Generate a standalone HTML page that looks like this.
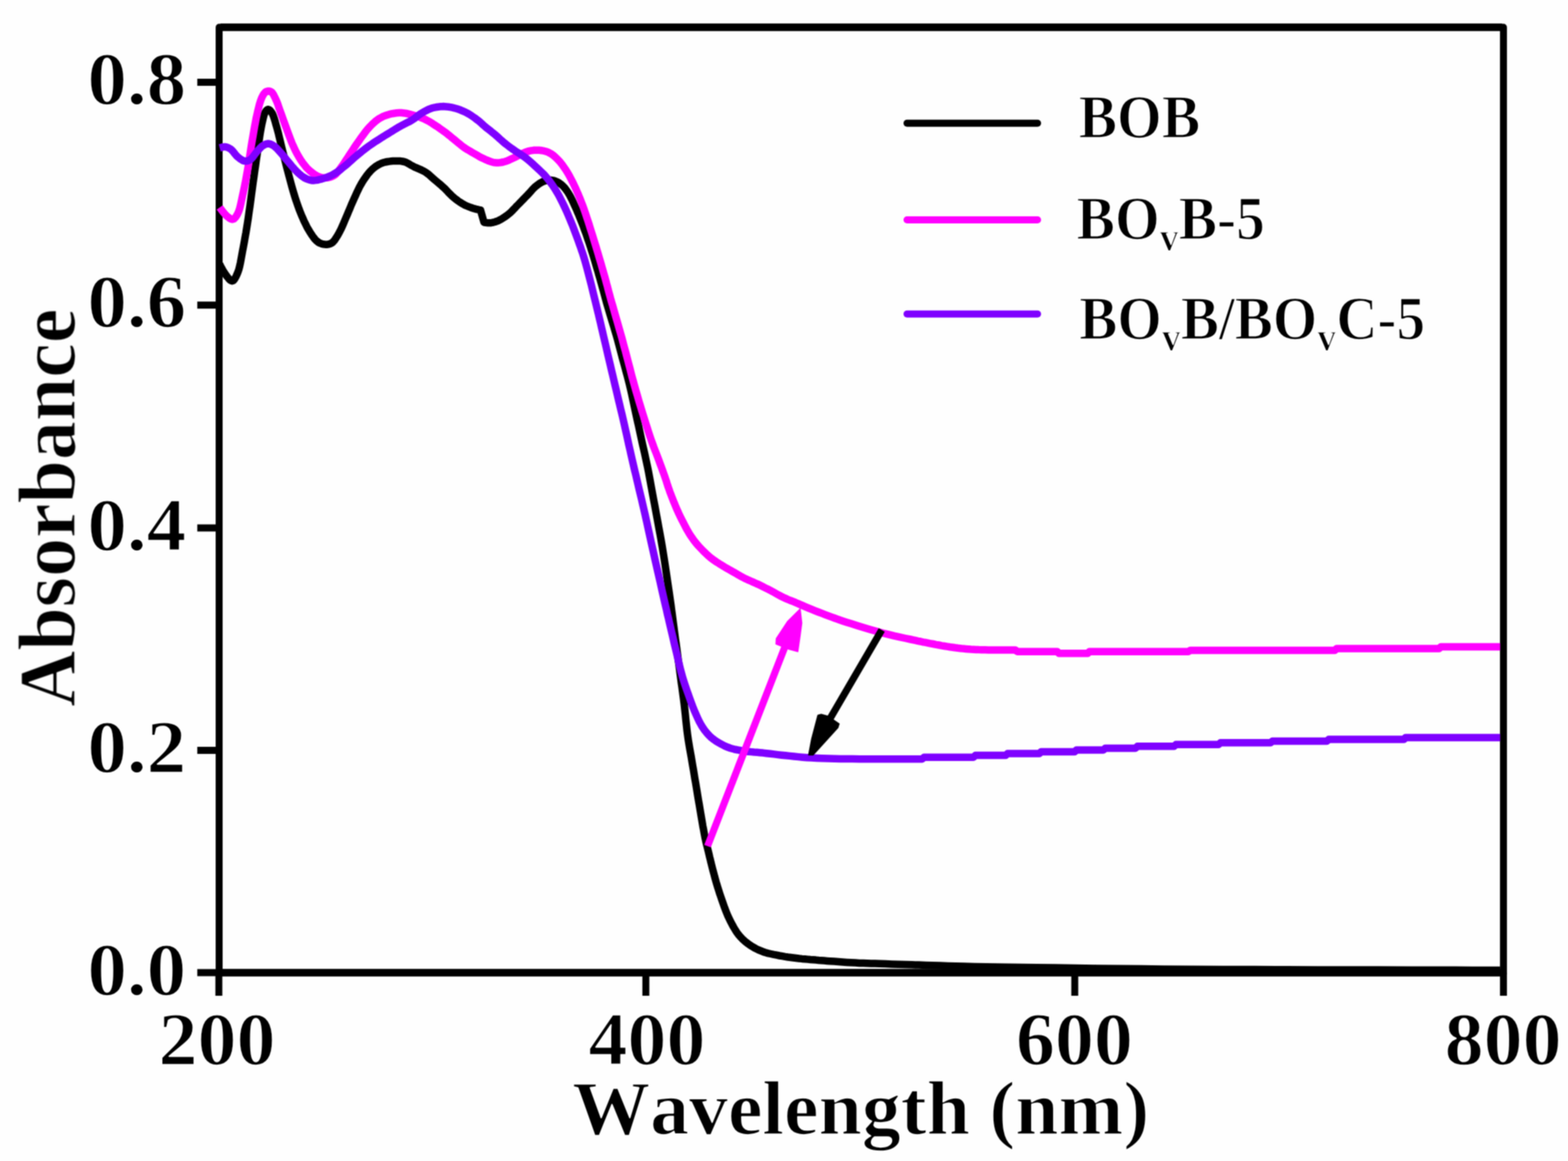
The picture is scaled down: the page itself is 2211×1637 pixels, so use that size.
<!DOCTYPE html>
<html lang="en">
<head>
<meta charset="utf-8">
<title>UV-vis absorbance spectra</title>
<style>
html,body{margin:0;padding:0;background:#fefefe;}
body{width:2211px;height:1637px;overflow:hidden;}
svg{display:block;}
</style>
</head>
<body>
<svg width="2211" height="1637" viewBox="0 0 2211 1637" role="img" aria-label="UV-vis absorbance spectra of BOB, BOvB-5 and BOvB/BOvC-5">
<defs><filter id="soft" x="0" y="0" width="2211" height="1637" filterUnits="userSpaceOnUse" color-interpolation-filters="sRGB"><feConvolveMatrix order="3" kernelMatrix="1 2 1 2 4 2 1 2 1" divisor="16" edgeMode="duplicate" preserveAlpha="false"/></filter></defs>
<rect width="2211" height="1637" fill="#fefefe"/>
<g filter="url(#soft)">
<g stroke="#000" fill="none" stroke-linecap="butt">
<rect x="309.0" y="38.4" width="1811.0" height="1333.0" stroke-width="9.8" stroke-linejoin="round"/>
<line x1="311.0" y1="38.4" x2="2118.0" y2="38.4" stroke-width="10.5"/>
<line x1="311.0" y1="1371.4" x2="2118.0" y2="1371.4" stroke-width="10.5"/>
<line x1="308.6" y1="1371.4" x2="308.6" y2="1404" stroke-width="9.8"/>
<line x1="910.7" y1="1371.4" x2="910.7" y2="1404" stroke-width="9.8"/>
<line x1="1515.5" y1="1371.4" x2="1515.5" y2="1404" stroke-width="9.8"/>
<line x1="2120.0" y1="1371.4" x2="2120.0" y2="1404" stroke-width="9.8"/>
<line x1="278.2" y1="1371.4" x2="309.0" y2="1371.4" stroke-width="10.0"/>
<line x1="278.2" y1="1058.0" x2="309.0" y2="1058.0" stroke-width="10.0"/>
<line x1="278.2" y1="744.4" x2="309.0" y2="744.4" stroke-width="10.0"/>
<line x1="278.2" y1="430.2" x2="309.0" y2="430.2" stroke-width="10.0"/>
<line x1="278.2" y1="116.0" x2="309.0" y2="116.0" stroke-width="10.0"/>
</g>
<g fill="none" stroke-width="10.5" stroke-linejoin="round" stroke-linecap="butt">
<path stroke="#000" d="M309.8,372.7 L310.2,373.4 L311.1,375.4 L312.6,378.0 L314.2,381.1 L316.0,384.0 L317.6,386.4 L319.1,388.5 L320.8,390.7 L322.5,392.8 L324.2,394.6 L325.9,395.8 L327.4,396.2 L328.9,395.6 L330.3,394.1 L331.6,392.1 L332.9,389.7 L334.1,387.0 L335.2,384.4 L336.7,380.3 L337.9,375.6 L339.0,370.5 L340.0,365.1 L341.0,359.6 L342.0,354.1 L343.2,347.9 L344.4,341.6 L345.5,335.1 L346.7,328.6 L347.8,321.8 L348.9,315.0 L350.1,307.2 L351.2,299.1 L352.4,290.9 L353.5,282.7 L354.6,274.4 L355.7,266.2 L356.8,258.0 L358.0,249.8 L359.1,241.6 L360.3,233.4 L361.4,225.3 L362.6,217.3 L363.7,209.7 L364.8,202.0 L365.9,194.3 L367.0,187.0 L368.2,180.3 L369.4,174.3 L370.2,170.9 L370.9,167.7 L371.6,164.7 L372.4,161.9 L373.3,159.6 L374.3,157.7 L374.9,156.8 L375.5,156.0 L376.2,155.3 L376.8,154.8 L377.5,154.4 L378.2,154.3 L379.0,154.5 L379.8,154.9 L380.7,155.6 L381.5,156.5 L382.3,157.5 L383.1,158.6 L384.4,160.9 L385.6,163.8 L386.7,167.1 L387.8,170.7 L388.8,174.5 L389.9,178.2 L391.2,183.0 L392.6,188.1 L393.8,193.4 L395.1,198.8 L396.4,204.2 L397.7,209.5 L399.0,214.7 L400.3,219.8 L401.6,225.0 L402.9,230.2 L404.2,235.4 L405.6,240.7 L407.1,246.5 L408.7,252.5 L410.3,258.5 L411.9,264.4 L413.6,270.3 L415.3,275.9 L416.8,280.7 L418.4,285.4 L420.0,290.0 L421.6,294.5 L423.3,298.9 L425.1,303.3 L426.9,307.4 L428.7,311.6 L430.7,315.6 L432.6,319.6 L434.7,323.3 L436.8,326.8 L438.6,329.6 L440.5,332.5 L442.4,335.1 L444.4,337.6 L446.5,339.7 L448.6,341.4 L450.3,342.4 L452.1,343.2 L453.9,343.9 L455.8,344.3 L457.6,344.6 L459.3,344.7 L460.8,344.7 L462.3,344.5 L463.8,344.3 L465.3,343.8 L466.7,343.2 L468.1,342.4 L469.9,340.9 L471.6,338.9 L473.2,336.6 L474.8,334.0 L476.4,331.4 L477.9,328.7 L479.6,325.5 L481.3,322.1 L482.9,318.5 L484.5,314.8 L486.1,311.0 L487.7,307.2 L489.6,302.8 L491.5,298.2 L493.5,293.6 L495.4,288.9 L497.4,284.3 L499.4,279.8 L501.3,275.7 L503.1,271.7 L505.0,267.7 L506.9,263.8 L509.0,260.0 L511.1,256.4 L513.2,253.2 L515.4,250.0 L517.6,246.9 L519.9,243.9 L522.3,241.2 L524.8,238.8 L527.0,236.9 L529.2,235.2 L531.4,233.7 L533.7,232.3 L536.1,231.1 L538.5,230.0 L541.0,229.1 L543.5,228.5 L546.2,228.0 L548.8,227.6 L551.5,227.3 L554.1,227.1 L556.7,227.0 L559.4,226.9 L562.1,226.9 L564.7,227.1 L567.3,227.5 L569.8,228.0 L572.2,228.8 L574.4,229.9 L576.6,231.1 L578.8,232.4 L581.1,233.7 L583.4,234.9 L586.1,236.2 L588.9,237.4 L591.8,238.6 L594.7,239.9 L597.4,241.2 L600.0,242.7 L602.1,244.2 L604.1,245.7 L606.0,247.4 L607.9,249.1 L609.7,250.8 L611.7,252.5 L613.9,254.4 L616.2,256.3 L618.5,258.2 L620.8,260.1 L623.1,262.2 L625.4,264.2 L627.7,266.4 L630.0,268.8 L632.2,271.2 L634.5,273.5 L636.8,275.8 L639.1,277.9 L641.3,279.7 L643.6,281.5 L645.8,283.2 L648.1,284.8 L650.5,286.3 L652.8,287.7 L655.0,288.9 L657.3,290.0 L659.7,291.0 L662.0,291.9 L664.3,292.7 L666.5,293.5 L668.7,294.2 L671.1,294.8 L673.5,295.4 L675.6,295.9 L677.0,296.2 L677.6,296.3 L682.5,313.5 L683.0,313.6 L684.2,313.8 L686.0,314.0 L688.0,314.2 L690.1,314.3 L691.9,314.2 L693.8,313.9 L695.7,313.5 L697.7,313.0 L699.7,312.3 L701.6,311.6 L703.6,310.7 L705.9,309.5 L708.2,308.2 L710.5,306.7 L712.8,305.1 L715.1,303.5 L717.3,301.7 L719.7,299.7 L722.0,297.5 L724.2,295.2 L726.5,292.8 L728.7,290.4 L731.0,288.1 L733.3,285.8 L735.6,283.4 L737.9,281.0 L740.2,278.6 L742.5,276.3 L744.7,274.0 L746.7,271.9 L748.6,269.7 L750.5,267.6 L752.4,265.5 L754.4,263.6 L756.4,261.9 L758.3,260.5 L760.2,259.2 L762.1,257.9 L764.1,256.8 L766.1,255.9 L768.1,255.2 L770.0,254.7 L772.0,254.3 L773.9,254.1 L775.9,254.0 L777.9,254.1 L779.8,254.4 L781.8,254.9 L783.9,255.7 L785.9,256.6 L787.9,257.7 L789.8,259.0 L791.6,260.3 L793.4,261.9 L795.1,263.6 L796.7,265.5 L798.3,267.6 L799.8,269.7 L801.3,272.0 L803.1,274.9 L804.7,278.0 L806.4,281.3 L808.0,284.7 L809.5,288.1 L811.1,291.6 L812.8,295.3 L814.4,299.1 L816.1,303.0 L817.7,307.0 L819.3,311.0 L820.9,315.0 L822.6,319.4 L824.2,323.9 L825.9,328.4 L827.5,333.0 L829.1,337.7 L830.7,342.4 L832.4,347.5 L834.0,352.7 L835.7,358.0 L837.3,363.3 L838.9,368.6 L840.4,373.7 L841.8,378.4 L843.2,383.1 L844.5,387.8 L845.9,392.4 L847.1,396.8 L848.3,401.0 L849.2,404.3 L850.1,407.5 L850.9,410.5 L851.7,413.5 L852.5,416.5 L853.3,419.5 L854.1,422.3 L854.8,425.0 L855.6,427.7 L856.4,430.5 L857.3,433.5 L858.2,436.7 L859.8,442.0 L861.6,448.0 L863.5,454.3 L865.5,460.8 L867.4,467.2 L869.2,473.3 L870.7,478.7 L872.1,484.0 L873.5,489.2 L874.9,494.4 L876.3,499.7 L877.7,505.1 L879.3,511.0 L881.0,517.1 L882.6,523.2 L884.3,529.3 L885.9,535.5 L887.5,541.7 L889.0,548.1 L890.5,554.6 L891.9,561.2 L893.3,567.7 L894.7,574.3 L896.1,580.8 L897.5,587.3 L898.9,593.8 L900.4,600.3 L901.8,606.9 L903.2,613.4 L904.6,619.9 L906.0,626.4 L907.5,632.9 L909.0,639.4 L910.4,646.0 L911.8,652.5 L913.2,659.0 L914.5,665.5 L915.7,672.0 L916.9,678.5 L918.1,685.1 L919.3,691.6 L920.5,698.1 L921.7,704.6 L923.0,711.2 L924.2,717.8 L925.4,724.4 L926.6,730.8 L927.8,737.2 L928.8,742.9 L929.8,748.3 L930.8,753.6 L931.8,759.1 L932.8,765.0 L933.9,771.4 L935.7,782.5 L937.7,795.3 L939.7,808.8 L941.7,822.4 L943.6,835.3 L945.2,846.6 L946.2,853.5 L947.0,859.8 L947.8,865.8 L948.6,871.6 L949.3,877.3 L950.1,883.3 L950.9,889.4 L951.7,895.5 L952.5,901.6 L953.4,907.7 L954.2,913.8 L955.0,919.9 L955.8,926.0 L956.6,932.1 L957.5,938.2 L958.3,944.4 L959.1,950.5 L959.9,956.6 L960.7,962.7 L961.6,968.7 L962.4,974.7 L963.2,980.8 L964.0,986.9 L964.8,993.2 L965.6,1000.3 L966.4,1007.6 L967.1,1015.0 L967.9,1022.3 L968.7,1029.6 L969.6,1036.7 L970.5,1043.0 L971.5,1049.1 L972.5,1055.2 L973.6,1061.2 L974.7,1067.2 L975.7,1073.3 L976.7,1079.4 L977.8,1085.5 L978.8,1091.6 L979.8,1097.8 L980.9,1103.9 L981.9,1110.0 L982.9,1116.1 L983.9,1122.3 L984.9,1128.4 L986.0,1134.5 L987.0,1140.6 L988.0,1146.6 L989.0,1152.5 L990.0,1158.4 L991.0,1164.4 L992.1,1170.1 L993.1,1175.7 L994.1,1180.8 L994.9,1184.4 L995.6,1187.7 L996.4,1190.9 L997.2,1194.0 L998.0,1197.2 L998.8,1200.5 L999.7,1204.3 L1000.6,1208.2 L1001.6,1212.1 L1002.5,1216.1 L1003.5,1220.1 L1004.5,1224.0 L1005.5,1227.9 L1006.6,1231.9 L1007.6,1235.8 L1008.7,1239.7 L1009.8,1243.7 L1011.0,1247.6 L1012.2,1251.7 L1013.5,1255.7 L1014.8,1259.8 L1016.2,1263.9 L1017.6,1268.0 L1019.0,1272.0 L1020.4,1275.9 L1021.8,1279.9 L1023.3,1283.8 L1024.8,1287.6 L1026.4,1291.5 L1028.2,1295.3 L1030.2,1299.3 L1032.3,1303.4 L1034.5,1307.4 L1036.9,1311.4 L1039.3,1315.1 L1041.9,1318.5 L1044.3,1321.2 L1046.7,1323.8 L1049.3,1326.2 L1051.9,1328.4 L1054.6,1330.5 L1057.4,1332.5 L1060.2,1334.3 L1063.0,1336.0 L1066.0,1337.6 L1069.0,1339.1 L1072.1,1340.4 L1075.3,1341.7 L1079.0,1343.0 L1082.9,1344.1 L1086.9,1345.0 L1091.0,1345.9 L1095.1,1346.7 L1099.1,1347.5 L1103.1,1348.2 L1107.0,1348.9 L1111.0,1349.5 L1115.0,1350.0 L1118.9,1350.5 L1122.9,1351.0 L1126.9,1351.5 L1130.8,1351.9 L1134.8,1352.2 L1138.8,1352.6 L1142.7,1353.0 L1146.7,1353.3 L1150.6,1353.6 L1154.5,1354.0 L1158.3,1354.3 L1162.3,1354.6 L1166.3,1354.9 L1170.6,1355.2 L1176.1,1355.6 L1182.0,1356.0 L1188.1,1356.5 L1194.2,1356.9 L1200.3,1357.3 L1206.3,1357.6 L1211.9,1357.9 L1217.3,1358.1 L1222.7,1358.3 L1228.2,1358.4 L1233.9,1358.6 L1240.0,1358.8 L1248.4,1359.1 L1257.3,1359.4 L1266.6,1359.7 L1276.1,1360.0 L1285.8,1360.3 L1295.4,1360.6 L1305.6,1360.9 L1315.7,1361.3 L1325.9,1361.6 L1336.4,1362.0 L1347.4,1362.3 L1358.9,1362.6 L1374.3,1362.9 L1390.2,1363.2 L1406.9,1363.5 L1424.3,1363.7 L1442.5,1363.9 L1461.5,1364.2 L1488.0,1364.6 L1516.1,1365.0 L1545.6,1365.4 L1576.2,1365.7 L1607.7,1366.1 L1640.0,1366.4 L1680.8,1366.7 L1724.0,1366.9 L1768.5,1367.1 L1813.4,1367.2 L1857.5,1367.4 L1900.0,1367.5 L1942.0,1367.6 L1989.1,1367.7 L2035.6,1367.8 L2075.9,1367.9 L2104.3,1368.0 L2115.0,1368.0"/>
<path stroke="#ff00ff" d="M309.8,292.5 L310.3,293.2 L311.6,294.9 L313.4,297.3 L315.5,300.0 L317.6,302.4 L319.5,304.3 L320.9,305.5 L322.4,306.7 L324.0,307.8 L325.5,308.6 L326.9,309.2 L328.3,309.2 L329.6,308.7 L330.8,307.8 L332.0,306.5 L333.1,304.9 L334.2,303.1 L335.2,301.3 L336.6,298.0 L337.9,294.2 L339.0,289.9 L340.0,285.3 L341.0,280.6 L342.0,275.9 L343.2,270.4 L344.4,264.7 L345.6,258.9 L346.7,252.9 L347.8,246.8 L348.9,240.7 L350.1,233.8 L351.2,226.6 L352.3,219.3 L353.4,212.0 L354.5,204.7 L355.7,197.7 L356.8,191.3 L357.9,184.8 L359.0,178.4 L360.2,172.2 L361.3,166.2 L362.6,160.6 L363.6,156.2 L364.7,151.8 L365.7,147.6 L366.9,143.7 L368.1,140.2 L369.4,137.1 L370.3,135.4 L371.2,133.8 L372.1,132.3 L373.1,131.1 L374.2,130.0 L375.3,129.3 L376.4,128.9 L377.5,128.6 L378.7,128.5 L379.9,128.6 L381.1,128.9 L382.1,129.3 L383.3,130.1 L384.3,131.3 L385.3,132.8 L386.2,134.5 L387.1,136.3 L388.0,138.1 L389.3,141.0 L390.7,144.2 L392.0,147.7 L393.2,151.4 L394.5,155.0 L395.8,158.6 L397.1,162.1 L398.4,165.7 L399.6,169.2 L400.9,172.8 L402.2,176.4 L403.6,180.1 L405.1,184.3 L406.7,188.6 L408.3,192.9 L409.9,197.2 L411.6,201.5 L413.4,205.6 L415.2,209.4 L417.0,213.2 L419.0,216.9 L421.0,220.5 L423.0,223.9 L425.1,227.1 L426.9,229.7 L428.8,232.1 L430.7,234.5 L432.6,236.7 L434.7,238.7 L436.8,240.7 L438.9,242.5 L441.2,244.2 L443.5,245.9 L445.8,247.3 L448.2,248.6 L450.5,249.5 L452.5,250.1 L454.4,250.5 L456.4,250.7 L458.4,250.8 L460.3,250.7 L462.2,250.5 L463.9,250.2 L465.6,249.7 L467.3,249.2 L468.9,248.5 L470.5,247.6 L472.0,246.6 L473.8,245.1 L475.4,243.4 L477.0,241.4 L478.6,239.3 L480.2,237.1 L481.8,234.9 L483.7,232.2 L485.6,229.4 L487.5,226.5 L489.5,223.5 L491.4,220.5 L493.4,217.5 L495.6,214.2 L497.8,210.8 L500.0,207.4 L502.3,204.0 L504.6,200.7 L506.9,197.4 L509.1,194.3 L511.3,191.3 L513.5,188.3 L515.7,185.3 L518.0,182.5 L520.3,179.9 L522.5,177.6 L524.7,175.4 L526.9,173.3 L529.1,171.3 L531.5,169.5 L533.8,167.8 L535.9,166.5 L538.1,165.3 L540.2,164.2 L542.5,163.3 L544.8,162.5 L547.2,161.7 L550.1,160.9 L553.1,160.2 L556.3,159.7 L559.5,159.3 L562.8,159.1 L566.0,159.1 L569.6,159.4 L573.3,160.0 L577.0,160.8 L580.7,161.8 L584.2,162.8 L587.5,163.8 L590.0,164.6 L592.3,165.4 L594.5,166.2 L596.7,167.1 L598.8,168.1 L601.0,169.1 L603.3,170.3 L605.5,171.6 L607.8,172.9 L610.0,174.3 L612.2,175.8 L614.4,177.2 L616.7,178.7 L618.9,180.2 L621.1,181.8 L623.4,183.3 L625.6,185.0 L627.8,186.6 L630.1,188.3 L632.3,190.1 L634.6,191.9 L636.8,193.8 L639.1,195.6 L641.3,197.4 L643.5,199.2 L645.7,201.1 L648.0,202.9 L650.2,204.7 L652.4,206.5 L654.7,208.1 L656.9,209.6 L659.1,211.0 L661.4,212.3 L663.7,213.6 L665.9,214.9 L668.2,216.2 L670.4,217.5 L672.6,218.8 L674.8,220.1 L677.0,221.3 L679.3,222.5 L681.6,223.6 L684.2,224.8 L686.9,225.9 L689.6,227.1 L692.3,228.0 L695.0,228.8 L697.7,229.3 L700.0,229.5 L702.3,229.5 L704.6,229.3 L706.9,229.0 L709.2,228.5 L711.4,228.0 L713.7,227.3 L716.1,226.4 L718.4,225.4 L720.6,224.3 L722.9,223.2 L725.1,222.2 L727.1,221.2 L729.1,220.2 L731.0,219.2 L732.9,218.1 L734.8,217.2 L736.8,216.3 L738.7,215.5 L740.7,214.7 L742.6,214.0 L744.6,213.4 L746.6,212.8 L748.6,212.4 L750.8,212.1 L753.1,211.8 L755.4,211.7 L757.7,211.7 L760.0,211.8 L762.2,212.0 L764.4,212.3 L766.6,212.7 L768.7,213.3 L770.9,213.9 L773.0,214.7 L775.0,215.7 L777.1,216.9 L779.1,218.3 L781.1,219.8 L783.0,221.5 L784.8,223.2 L786.7,225.1 L788.8,227.3 L790.8,229.8 L792.8,232.3 L794.7,235.0 L796.6,237.7 L798.4,240.4 L800.2,243.3 L801.9,246.2 L803.6,249.3 L805.2,252.4 L806.8,255.5 L808.4,258.7 L810.1,262.2 L811.8,265.8 L813.4,269.5 L815.0,273.2 L816.6,277.0 L818.2,280.8 L819.8,285.0 L821.4,289.2 L823.0,293.5 L824.5,297.9 L826.0,302.3 L827.5,306.8 L829.1,311.6 L830.7,316.5 L832.2,321.5 L833.8,326.5 L835.4,331.5 L836.9,336.5 L838.5,341.7 L840.1,346.9 L841.7,352.2 L843.3,357.5 L844.8,362.7 L846.3,367.8 L847.7,372.5 L849.0,377.1 L850.3,381.7 L851.6,386.2 L852.9,390.7 L854.1,395.2 L855.2,399.4 L856.4,403.6 L857.4,407.7 L858.5,411.8 L859.6,415.7 L860.6,419.5 L861.4,422.5 L862.2,425.2 L863.0,427.9 L863.8,430.6 L864.6,433.5 L865.5,436.7 L866.9,441.7 L868.5,447.2 L870.2,453.0 L871.9,459.0 L873.6,465.0 L875.3,470.9 L877.0,476.9 L878.6,483.0 L880.2,489.1 L881.9,495.2 L883.5,501.4 L885.1,507.5 L886.7,513.6 L888.3,519.7 L889.8,525.7 L891.4,531.8 L893.1,538.0 L894.8,544.2 L896.7,551.0 L898.8,558.0 L900.8,565.1 L902.9,572.1 L905.0,579.0 L907.1,585.7 L908.9,591.6 L910.8,597.5 L912.6,603.2 L914.4,608.8 L916.2,614.4 L918.1,619.9 L919.9,624.9 L921.7,629.9 L923.6,634.8 L925.5,639.6 L927.3,644.4 L929.1,649.2 L930.8,653.9 L932.6,658.7 L934.3,663.4 L936.0,668.0 L937.5,672.3 L938.8,676.1 L939.5,678.2 L940.1,680.1 L940.6,681.8 L941.2,683.5 L941.7,685.3 L942.4,687.3 L943.5,690.3 L944.6,693.5 L945.9,696.9 L947.2,700.3 L948.5,703.7 L949.8,706.9 L951.0,709.8 L952.2,712.8 L953.4,715.6 L954.6,718.5 L955.9,721.3 L957.1,724.0 L958.3,726.5 L959.5,729.0 L960.7,731.4 L961.9,733.8 L963.2,736.2 L964.4,738.6 L965.6,740.9 L966.8,743.2 L968.0,745.5 L969.2,747.7 L970.5,749.9 L971.8,752.1 L973.1,754.2 L974.5,756.3 L975.9,758.3 L977.3,760.3 L978.8,762.3 L980.3,764.3 L982.0,766.4 L983.8,768.5 L985.6,770.5 L987.5,772.5 L989.4,774.5 L991.3,776.5 L993.2,778.4 L995.2,780.3 L997.2,782.2 L999.2,784.0 L1001.3,785.8 L1003.5,787.5 L1005.8,789.2 L1008.2,790.9 L1010.7,792.6 L1013.2,794.2 L1015.7,795.8 L1018.2,797.3 L1020.6,798.8 L1023.0,800.2 L1025.5,801.6 L1027.9,803.0 L1030.4,804.4 L1032.9,805.8 L1035.7,807.4 L1038.5,809.0 L1041.3,810.7 L1044.2,812.3 L1047.1,813.9 L1050.0,815.4 L1053.0,816.8 L1056.0,818.2 L1059.1,819.5 L1062.2,820.9 L1065.2,822.2 L1068.3,823.6 L1071.4,825.1 L1074.4,826.5 L1077.5,828.1 L1080.5,829.6 L1083.6,831.1 L1086.6,832.7 L1089.7,834.3 L1092.7,836.0 L1095.7,837.7 L1098.8,839.4 L1101.8,841.0 L1104.9,842.5 L1108.0,843.9 L1111.0,845.2 L1114.1,846.5 L1117.2,847.7 L1120.3,848.9 L1123.3,850.2 L1126.1,851.4 L1128.8,852.6 L1131.4,853.7 L1134.1,854.9 L1137.0,856.1 L1140.0,857.4 L1144.4,859.2 L1149.1,861.1 L1154.0,863.0 L1159.1,864.9 L1164.0,866.8 L1168.8,868.6 L1172.9,870.1 L1176.7,871.5 L1180.5,872.9 L1184.4,874.3 L1188.6,875.7 L1193.2,877.2 L1200.8,879.6 L1209.2,882.3 L1218.2,885.0 L1227.4,887.7 L1236.5,890.3 L1245.2,892.7 L1253.1,894.7 L1261.1,896.6 L1269.1,898.3 L1276.7,900.0 L1283.9,901.5 L1290.5,902.9 L1294.5,903.8 L1298.2,904.5 L1301.7,905.3 L1305.0,905.9 L1308.4,906.6 L1312.0,907.3 L1315.9,908.0 L1319.8,908.8 L1323.8,909.5 L1327.8,910.3 L1331.8,911.0 L1335.7,911.6 L1339.5,912.2 L1343.2,912.7 L1346.9,913.3 L1350.6,913.8 L1354.3,914.2 L1358.0,914.6 L1361.7,914.9 L1365.3,915.2 L1369.0,915.5 L1372.7,915.7 L1376.3,915.9 L1380.0,916.1 L1384.2,916.2 L1389.0,916.3 L1393.7,916.4 L1397.9,916.5 L1400.9,916.5 L1402.0,916.5 L1410.0,916.5 L1431.6,916.5 L1434.4,918.7 L1490.6,918.7 L1493.4,921.3 L1533.6,921.3 L1536.4,918.7 L1675.6,918.7 L1678.4,917.0 L1882.1,917.0 L1884.9,914.5 L2029.1,914.5 L2031.9,912.0 L2115.3,912.0"/>
<path stroke="#7f00ff" d="M309.8,208.5 L310.2,208.4 L311.3,208.1 L312.7,207.7 L314.4,207.3 L316.1,207.1 L317.6,207.1 L318.9,207.3 L320.2,207.7 L321.5,208.2 L322.8,208.8 L324.1,209.5 L325.4,210.4 L327.0,211.8 L328.7,213.6 L330.2,215.6 L331.9,217.7 L333.5,219.6 L335.2,221.2 L336.8,222.5 L338.4,223.8 L340.1,224.9 L341.7,225.9 L343.4,226.7 L345.0,227.1 L346.3,227.2 L347.6,227.1 L349.0,226.8 L350.3,226.4 L351.5,225.8 L352.8,225.1 L354.5,223.7 L356.2,221.9 L357.8,219.7 L359.4,217.5 L361.0,215.3 L362.6,213.4 L363.9,211.9 L365.2,210.5 L366.5,209.1 L367.7,207.8 L369.0,206.6 L370.4,205.6 L371.6,204.8 L372.9,204.1 L374.2,203.5 L375.6,203.0 L376.9,202.7 L378.2,202.6 L379.5,202.7 L380.8,203.0 L382.1,203.5 L383.4,204.1 L384.7,204.8 L386.0,205.6 L387.7,206.8 L389.3,208.3 L390.9,209.9 L392.6,211.7 L394.2,213.5 L395.8,215.3 L397.5,217.2 L399.1,219.1 L400.7,221.1 L402.3,223.1 L403.9,225.1 L405.6,227.1 L407.5,229.4 L409.4,231.7 L411.3,234.0 L413.3,236.4 L415.3,238.6 L417.3,240.7 L419.2,242.6 L421.1,244.4 L423.0,246.1 L425.0,247.8 L427.0,249.2 L429.0,250.5 L430.9,251.5 L432.7,252.4 L434.7,253.1 L436.6,253.7 L438.6,254.2 L440.7,254.4 L443.2,254.4 L445.8,254.1 L448.4,253.7 L451.1,253.0 L453.8,252.3 L456.4,251.5 L459.0,250.6 L461.7,249.7 L464.3,248.6 L466.9,247.4 L469.5,246.1 L472.0,244.7 L474.7,243.0 L477.3,241.2 L480.0,239.2 L482.5,237.1 L485.1,235.0 L487.7,232.9 L490.3,230.7 L492.9,228.4 L495.5,226.1 L498.1,223.7 L500.7,221.4 L503.3,219.2 L505.9,217.1 L508.5,214.9 L511.0,212.8 L513.6,210.8 L516.3,208.8 L518.9,206.8 L521.5,205.0 L524.1,203.2 L526.7,201.4 L529.3,199.7 L532.0,198.0 L534.6,196.3 L537.2,194.6 L539.8,193.0 L542.4,191.4 L545.0,189.8 L547.6,188.2 L550.2,186.6 L552.8,185.0 L555.4,183.4 L558.0,181.8 L560.6,180.2 L563.3,178.7 L565.9,177.2 L568.5,175.8 L571.2,174.4 L573.9,173.1 L576.6,171.8 L579.1,170.4 L581.5,169.0 L583.4,167.7 L585.2,166.4 L586.9,165.0 L588.6,163.6 L590.3,162.3 L592.2,161.0 L594.4,159.6 L596.7,158.3 L599.0,156.9 L601.4,155.7 L603.7,154.6 L605.9,153.6 L607.6,153.0 L609.2,152.4 L610.8,152.0 L612.3,151.6 L613.9,151.3 L615.6,151.0 L617.5,150.7 L619.4,150.5 L621.3,150.3 L623.3,150.2 L625.3,150.1 L627.4,150.2 L629.9,150.4 L632.5,150.7 L635.1,151.1 L637.8,151.7 L640.4,152.3 L643.0,153.0 L645.6,153.8 L648.3,154.7 L650.9,155.8 L653.5,156.9 L656.1,158.1 L658.6,159.4 L661.3,160.9 L664.1,162.7 L666.8,164.5 L669.4,166.3 L671.9,168.2 L674.3,170.0 L676.1,171.4 L677.7,172.9 L679.3,174.3 L680.8,175.7 L682.4,177.1 L684.1,178.6 L686.2,180.3 L688.5,182.1 L690.8,183.9 L693.1,185.8 L695.4,187.6 L697.7,189.5 L700.0,191.5 L702.3,193.5 L704.5,195.6 L706.8,197.6 L709.1,199.7 L711.4,201.6 L713.6,203.4 L715.9,205.1 L718.1,206.8 L720.4,208.5 L722.7,210.1 L725.1,211.8 L727.6,213.5 L730.2,215.2 L732.9,216.9 L735.5,218.6 L738.1,220.3 L740.7,222.2 L743.4,224.3 L746.0,226.5 L748.7,228.8 L751.3,231.2 L753.9,233.6 L756.4,235.9 L758.8,238.1 L761.1,240.3 L763.4,242.5 L765.7,244.7 L767.9,247.0 L770.1,249.5 L772.5,252.4 L774.9,255.4 L777.2,258.6 L779.5,261.8 L781.7,265.1 L783.8,268.5 L785.9,272.0 L788.0,275.7 L789.9,279.4 L791.8,283.1 L793.7,286.9 L795.5,290.6 L797.2,294.3 L798.9,298.0 L800.5,301.7 L802.1,305.5 L803.7,309.3 L805.3,313.1 L807.0,317.2 L808.6,321.4 L810.2,325.6 L811.8,329.8 L813.4,334.1 L815.0,338.5 L816.6,343.1 L818.3,347.6 L819.8,352.2 L821.5,357.0 L823.1,362.1 L824.8,367.8 L827.6,377.8 L830.6,389.4 L833.8,401.8 L836.8,414.2 L839.7,426.1 L842.3,436.7 L843.9,443.4 L845.4,449.7 L846.8,455.6 L848.1,461.4 L849.5,467.2 L850.9,473.3 L852.5,480.1 L854.1,486.9 L855.7,493.9 L857.3,500.9 L859.0,507.9 L860.6,514.8 L862.2,521.7 L863.9,528.7 L865.5,535.6 L867.1,542.5 L868.8,549.5 L870.4,556.4 L872.0,563.3 L873.7,570.2 L875.3,577.1 L877.0,584.0 L878.6,590.9 L880.2,597.9 L881.8,605.2 L883.5,612.5 L885.1,619.9 L886.7,627.3 L888.4,634.6 L890.0,641.9 L891.6,648.9 L893.2,655.8 L894.8,662.7 L896.5,669.6 L898.1,676.5 L899.7,683.4 L901.3,690.3 L903.0,697.3 L904.7,704.3 L906.3,711.2 L907.9,718.1 L909.5,725.0 L910.9,731.4 L912.3,737.6 L913.6,743.7 L915.0,750.0 L916.5,756.8 L918.1,764.1 L920.9,776.5 L924.0,790.6 L927.4,805.5 L930.8,820.4 L933.9,834.4 L936.7,846.6 L938.3,853.6 L939.8,859.9 L941.1,865.9 L942.5,871.6 L943.8,877.4 L945.2,883.3 L946.6,889.4 L948.1,895.6 L949.5,901.7 L950.9,907.8 L952.4,913.9 L953.8,919.9 L955.2,925.7 L956.5,931.5 L957.9,937.3 L959.3,943.0 L960.8,948.6 L962.3,954.1 L963.8,959.2 L965.4,964.2 L967.1,969.2 L968.8,974.1 L970.5,978.8 L972.1,983.4 L973.5,987.3 L974.9,991.0 L976.2,994.7 L977.6,998.3 L979.1,1001.9 L980.6,1005.4 L982.1,1008.8 L983.6,1012.2 L985.2,1015.6 L986.8,1018.8 L988.6,1022.0 L990.4,1025.0 L992.2,1027.7 L994.1,1030.3 L996.1,1032.8 L998.2,1035.2 L1000.4,1037.5 L1002.6,1039.6 L1004.9,1041.5 L1007.3,1043.3 L1009.7,1045.0 L1012.2,1046.5 L1014.8,1048.0 L1017.3,1049.4 L1019.7,1050.6 L1022.0,1051.8 L1024.4,1052.8 L1026.8,1053.8 L1029.3,1054.7 L1031.9,1055.5 L1034.9,1056.3 L1038.1,1057.0 L1041.3,1057.6 L1044.7,1058.2 L1048.1,1058.7 L1051.5,1059.2 L1055.4,1059.7 L1059.3,1060.1 L1063.3,1060.5 L1067.4,1060.8 L1071.6,1061.2 L1075.9,1061.6 L1080.9,1062.2 L1086.1,1062.8 L1091.4,1063.4 L1096.8,1064.1 L1102.2,1064.7 L1107.7,1065.3 L1113.6,1065.9 L1119.5,1066.5 L1125.5,1067.1 L1131.6,1067.7 L1137.9,1068.2 L1144.3,1068.6 L1152.0,1069.0 L1160.0,1069.3 L1168.3,1069.5 L1176.6,1069.7 L1184.9,1069.9 L1193.0,1070.0 L1202.0,1070.1 L1212.2,1070.2 L1222.4,1070.2 L1231.3,1070.2 L1237.6,1070.2 L1240.0,1070.2 L1262.0,1070.2 L1300.4,1070.2 L1303.2,1067.7 L1372.7,1067.7 L1375.5,1065.1 L1418.0,1065.1 L1420.8,1062.5 L1465.4,1062.5 L1468.2,1060.0 L1515.2,1060.0 L1518.0,1057.5 L1555.9,1057.5 L1558.7,1054.9 L1601.1,1054.9 L1603.9,1052.3 L1655.4,1052.3 L1658.2,1049.8 L1718.1,1049.8 L1720.9,1047.3 L1791.4,1047.3 L1794.2,1045.1 L1870.8,1045.1 L1873.6,1042.6 L1979.4,1042.6 L1982.2,1039.9 L2115.3,1039.9"/>
</g>
<g stroke-width="10" stroke-linecap="butt" stroke-linejoin="round">
<line x1="997.7" y1="1193" x2="1113" y2="896" stroke="#ff00ff"/>
<polygon points="1128.3,858.5 1130.6,878.5 1128.3,896 1125,918.8 1113,915.5 1094.2,908 1094.6,900.5 1110.7,876" fill="#ff00ff" stroke="#ff00ff" stroke-width="1.5"/>
<line x1="1243.3" y1="888.2" x2="1163" y2="1026" stroke="#000"/>
<polygon points="1140.2,1064.6 1144.5,1042 1153.3,1008.5 1158,1007.2 1168,1010 1183.2,1020.5 1181.5,1026 1146.5,1064.6" fill="#000" stroke="#000" stroke-width="1.5"/>
</g>
<g stroke-width="10" stroke-linecap="round">
<line x1="1279" y1="173.8" x2="1463" y2="173.8" stroke="#000"/>
<line x1="1279" y1="310" x2="1463" y2="310" stroke="#ff00ff"/>
<line x1="1279" y1="442.7" x2="1463" y2="442.7" stroke="#7f00ff"/>
</g>
<g font-family="'Liberation Serif', serif" font-weight="bold" fill="#000" stroke="#fefefe" stroke-width="1.7" stroke-linejoin="round" style="font-kerning:none;paint-order:fill stroke">
<text transform="translate(305.95,1501.3) scale(1.034,1)" font-size="106.4" text-anchor="middle">200</text>
<text transform="translate(912.3,1501.3) scale(1.034,1)" font-size="106.4" text-anchor="middle">400</text>
<text transform="translate(1515.0,1501.3) scale(1.034,1)" font-size="106.4" text-anchor="middle">600</text>
<text transform="translate(2119.4,1501.3) scale(1.034,1)" font-size="106.4" text-anchor="middle">800</text>
<text transform="translate(262.6,1402.6) scale(1.048,1)" font-size="106.4" text-anchor="end">0.0</text>
<text transform="translate(262.6,1089.2) scale(1.048,1)" font-size="106.4" text-anchor="end">0.2</text>
<text transform="translate(262.6,775.6) scale(1.048,1)" font-size="106.4" text-anchor="end">0.4</text>
<text transform="translate(262.6,461.4) scale(1.048,1)" font-size="106.4" text-anchor="end">0.6</text>
<text transform="translate(262.6,147.2) scale(1.048,1)" font-size="106.4" text-anchor="end">0.8</text>
<text transform="translate(807.0,1598.9) scale(1.0215,1)" font-size="107.4">Wavelength (nm)</text>
<text transform="translate(105.5,996.7) rotate(-90) scale(0.9655,1)" font-size="113.8">Absorbance</text>
<text transform="translate(1521.0,194.3) scale(0.9385,1)" font-size="86.4">BOB</text>
<text transform="translate(1518.1,336.9) scale(0.9385,1)" font-size="86.4">BO<tspan font-size="57.0" dy="16.0">v</tspan><tspan dy="-16.0">B-5</tspan></text>
<text transform="translate(1521.8,478.3) scale(0.9333,1)" font-size="86.4">BO<tspan font-size="57.0" dy="16.0">v</tspan><tspan dy="-16.0">B/BO</tspan><tspan font-size="57.0" dy="16.0">v</tspan><tspan dy="-16.0">C-5</tspan></text>
</g>
</g>
</svg>
</body>
</html>
